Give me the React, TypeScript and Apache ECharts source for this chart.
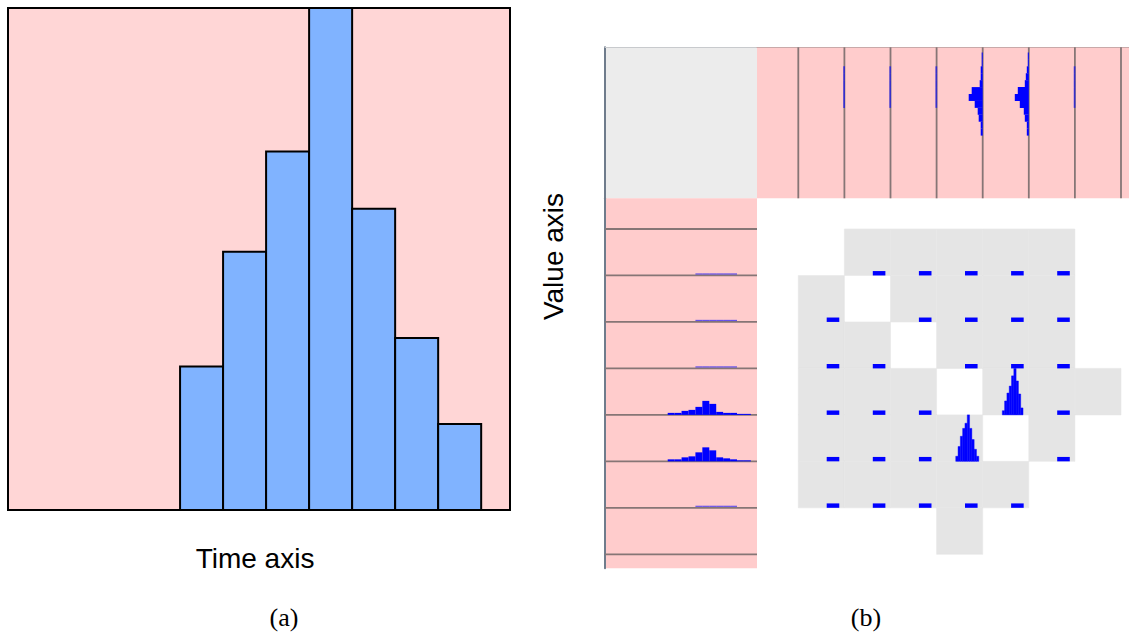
import React, { useEffect, useRef } from "react";
import * as echarts from "echarts";

// ---------- Panel (a): histogram over time ----------
const timeBinStart = [4, 5, 6, 7, 8, 9, 10];
const timeCounts = [10, 18, 25, 35, 21, 12, 6];
const timeAxisMax = 11.67;
const countAxisMax = 35;

// ---------- Panel (b): matrix of pairwise histograms ----------
const boundaries = [0, 1, 2, 3, 4, 5, 6, 7];
// gray (non-empty) cells, per row: list of columns
const grayCols = [
  [1, 2, 3, 4, 5],
  [0, 2, 3, 4, 5],
  [0, 1, 3, 4, 5],
  [0, 1, 2, 4, 5, 6],
  [0, 1, 2, 3, 5],
  [0, 1, 2, 3, 4],
  [3],
];
// small flat distributions ("dashes"), per row: list of columns
const dashCols = [
  [1, 2, 3, 4, 5],
  [0, 2, 3, 4, 5],
  [0, 1, 3, 4, 5],
  [0, 1, 2, 5],
  [0, 1, 2, 5],
  [0, 1, 2, 3, 4],
  [],
];
// marginal histograms (same variable shown in the top and left bands)
const marginalVars = [0, 1, 2, 3, 4, 5];
const marginalStart = [4, 4, 4, 0, 0, 4];
const marginalCounts = [
  [0.9, 0.9, 0.9, 0.9, 0.9, 0.9],
  [0.9, 0.9, 0.9, 0.9, 0.9, 0.9],
  [0.9, 0.9, 0.9, 0.9, 0.9, 0.9],
  [2, 2, 4, 5, 8, 14, 11, 3, 2, 2, 1, 1],
  [2, 2, 4, 5, 9, 14, 11, 4, 3, 2, 1, 1],
  [0.9, 0.9, 0.9, 0.9, 0.9, 0.9],
];
// tall narrow joint histograms inside the matrix
const spikeRows = [3, 4];
const spikeCols = [4, 3];
const spikeStart = [0.425, 0.415];
const spikeBinWidth = 0.05;
const spikeHeights = [
  [0.09, 0.3, 0.47, 0.62, 0.84, 1.0, 0.73, 0.45, 0.15],
  [0.11, 0.32, 0.54, 0.71, 0.82, 1.0, 0.71, 0.47, 0.26, 0.11],
];
// dash extent within a cell (cell fractions)
const dashX0 = 0.616;
const dashX1 = 0.889;
const dashH = 0.095;

// ---------- layout (pixels) ----------
const COL0_X = 798.3;
const CELL_W = 46.1;
const ROW0_Y = 229;
const CELL_H = 46.47;
const B_LEFT = 605;
const B_TOP = 47.3;
const BAND_X = 757;
const BAND_Y = 198.3;
const B_RIGHT = 1129;
const B_BOTTOM = 568.3;
const BIN0_OFFSET = 62.7;
const BIN_W = 6.93;

const colMin = (BAND_X - COL0_X) / CELL_W;
const colMax = (B_RIGHT - COL0_X) / CELL_W;
const rowMin = (BAND_Y - ROW0_Y) / CELL_H;
const rowMax = (B_BOTTOM - ROW0_Y) / CELL_H;
const binMinL = -BIN0_OFFSET / BIN_W;
const binMaxL = (BAND_X - B_LEFT - BIN0_OFFSET) / BIN_W;
const binMinT = -BIN0_OFFSET / BIN_W;
const binMaxT = (BAND_Y - B_TOP - BIN0_OFFSET) / BIN_W;

const PINK_A = "#ffd6d6";
const PINK_B = "#ffcccc";
const BAR_BLUE = "#80b3ff";
const BLUE = "#0000ff";
const CELL_GRAY = "#e5e5e5";
const LINE_GRAY = "#867676";
const AXIS_BLUEGRAY = "#6f7c8c";
const SANS = "'Liberation Sans', Arial, Helvetica, sans-serif";
const SERIF = "'Liberation Serif', 'Times New Roman', serif";

const hiddenAxisParts = {
  axisLine: { show: false },
  axisTick: { show: false },
  axisLabel: { show: false },
  splitLine: { show: false },
};

function rectFrom(api: any, a: number[], b: number[], style: any) {
  const p0 = api.coord(a);
  const p1 = api.coord(b);
  const x = Math.min(p0[0], p1[0]);
  const y = Math.min(p0[1], p1[1]);
  return {
    type: "rect",
    shape: { x, y, width: Math.abs(p1[0] - p0[0]), height: Math.abs(p1[1] - p0[1]) },
    style,
  };
}

function buildOption() {
  const barData = timeBinStart.map((s, i) => [s, s + 1, timeCounts[i]]);

  const grayData: number[][] = [];
  grayCols.forEach((cols, r) => cols.forEach((c) => grayData.push([r, c])));
  const dashData: number[][] = [];
  dashCols.forEach((cols, r) => cols.forEach((c) => dashData.push([r, c])));

  const marginalData: number[][] = [];
  marginalVars.forEach((v, k) =>
    marginalCounts[k].forEach((cnt, i) => marginalData.push([v, marginalStart[k] + i, cnt]))
  );

  const spikeData: number[][] = [];
  spikeRows.forEach((r, k) => {
    const c = spikeCols[k];
    spikeHeights[k].forEach((h, i) => {
      const x0 = c + spikeStart[k] + i * spikeBinWidth;
      spikeData.push([x0, x0 + spikeBinWidth, r + 1, h]);
    });
  });

  const faint = (cnt: number) => cnt < 1;

  return {
    animation: false,
    backgroundColor: "#ffffff",
    grid: [
      { left: 8, top: 8, width: 502, height: 502, show: true, backgroundColor: PINK_A, borderColor: "#000", borderWidth: 2 },
      { left: B_LEFT, top: B_TOP, width: BAND_X - B_LEFT, height: BAND_Y - B_TOP, show: true, backgroundColor: "#ececec", borderWidth: 0 },
      { left: BAND_X, top: B_TOP, width: B_RIGHT - BAND_X, height: BAND_Y - B_TOP, show: true, backgroundColor: PINK_B, borderWidth: 0 },
      { left: B_LEFT, top: BAND_Y, width: BAND_X - B_LEFT, height: B_BOTTOM - BAND_Y, show: true, backgroundColor: PINK_B, borderWidth: 0 },
      { left: BAND_X, top: BAND_Y, width: B_RIGHT - BAND_X, height: B_BOTTOM - BAND_Y, show: false },
    ],
    xAxis: [
      {
        gridIndex: 0, type: "value", min: 0, max: timeAxisMax,
        name: "Time axis", nameLocation: "middle", nameGap: 34,
        nameTextStyle: { fontSize: 28, color: "#000", fontFamily: SANS, padding: [0, 8, 0, 0] },
        ...hiddenAxisParts,
      },
      {
        gridIndex: 1, type: "value", min: 0, max: 1, position: "top",
        ...hiddenAxisParts,
        axisLine: { show: true, onZero: false, lineStyle: { color: "#c8cacd", width: 1 } },
      },
      {
        gridIndex: 2, type: "value", min: colMin, max: colMax, position: "top",
        ...hiddenAxisParts,
        axisLine: { show: true, onZero: false, lineStyle: { color: "#c9a9a9", width: 1 } },
      },
      { gridIndex: 3, type: "value", min: binMinL, max: binMaxL, show: false },
      { gridIndex: 4, type: "value", min: colMin, max: colMax, show: false },
    ],
    yAxis: [
      { gridIndex: 0, type: "value", min: 0, max: countAxisMax, show: false },
      {
        gridIndex: 1, type: "value", min: 0, max: 1,
        ...hiddenAxisParts,
        axisLine: { show: true, onZero: false, lineStyle: { color: AXIS_BLUEGRAY, width: 2 } },
      },
      { gridIndex: 2, type: "value", min: binMinT, max: binMaxT, show: false },
      {
        gridIndex: 3, type: "value", min: rowMin, max: rowMax, inverse: true,
        ...hiddenAxisParts,
        axisLine: { show: true, onZero: false, lineStyle: { color: AXIS_BLUEGRAY, width: 2 } },
      },
      { gridIndex: 4, type: "value", min: rowMin, max: rowMax, inverse: true, show: false },
    ],
    series: [
      {
        type: "custom", name: "time histogram", xAxisIndex: 0, yAxisIndex: 0, silent: true,
        data: barData,
        renderItem: (_p: any, api: any) =>
          rectFrom(api, [api.value(0), api.value(2)], [api.value(1), 0], {
            fill: BAR_BLUE, stroke: "#000", lineWidth: 2,
          }),
      },
      {
        type: "custom", name: "top band lines", xAxisIndex: 2, yAxisIndex: 2, silent: true,
        data: boundaries.map((k) => [k]),
        renderItem: (_p: any, api: any) => {
          const a = api.coord([api.value(0), binMaxT]);
          const b = api.coord([api.value(0), binMinT]);
          return { type: "line", shape: { x1: a[0], y1: a[1], x2: b[0], y2: b[1] }, style: { stroke: LINE_GRAY, lineWidth: 1.8 } };
        },
      },
      {
        type: "custom", name: "left band lines", xAxisIndex: 3, yAxisIndex: 3, silent: true,
        data: boundaries.map((k) => [k]),
        renderItem: (_p: any, api: any) => {
          const a = api.coord([binMinL, api.value(0)]);
          const b = api.coord([binMaxL, api.value(0)]);
          return { type: "line", shape: { x1: a[0], y1: a[1], x2: b[0], y2: b[1] }, style: { stroke: LINE_GRAY, lineWidth: 1.8 } };
        },
      },
      {
        type: "custom", name: "top marginals", xAxisIndex: 2, yAxisIndex: 2, silent: true,
        data: marginalData,
        renderItem: (_p: any, api: any) => {
          const v = api.value(0), bin = api.value(1), cnt = api.value(2);
          const x1 = v + 1 + (faint(cnt) ? 0.6 / CELL_W : 0);
          const x0 = v + 1 - (faint(cnt) ? 1.2 : cnt) / CELL_W;
          return rectFrom(api, [x0, bin + 1], [x1, bin], { fill: BLUE, opacity: faint(cnt) ? 0.6 : 1 });
        },
      },
      {
        type: "custom", name: "left marginals", xAxisIndex: 3, yAxisIndex: 3, silent: true,
        data: marginalData,
        renderItem: (_p: any, api: any) => {
          const v = api.value(0), bin = api.value(1), cnt = api.value(2);
          const y1 = v + 1 - (faint(cnt) ? 0.9 / CELL_H : 0);
          const y0 = v + 1 - (faint(cnt) ? 2.1 : cnt) / CELL_H;
          return rectFrom(api, [bin, y0], [bin + 1, y1], { fill: BLUE, opacity: faint(cnt) ? 0.6 : 1 });
        },
      },
      {
        type: "custom", name: "cells", xAxisIndex: 4, yAxisIndex: 4, silent: true,
        data: grayData,
        renderItem: (_p: any, api: any) => {
          const r = api.value(0), c = api.value(1);
          return rectFrom(api, [c, r], [c + 1, r + 1], { fill: CELL_GRAY, stroke: CELL_GRAY, lineWidth: 0.6 });
        },
      },
      {
        type: "custom", name: "dashes", xAxisIndex: 4, yAxisIndex: 4, silent: true,
        data: dashData,
        renderItem: (_p: any, api: any) => {
          const r = api.value(0), c = api.value(1);
          return rectFrom(api, [c + dashX0, r + 1 - dashH], [c + dashX1, r + 1], { fill: BLUE });
        },
      },
      {
        type: "custom", name: "spikes", xAxisIndex: 4, yAxisIndex: 4, silent: true,
        data: spikeData,
        renderItem: (_p: any, api: any) => {
          const x0 = api.value(0), x1 = api.value(1), base = api.value(2), h = api.value(3);
          return rectFrom(api, [x0, base - h], [x1, base], { fill: BLUE, stroke: BLUE, lineWidth: 0.4 });
        },
      },
    ],
    graphic: [
      {
        type: "text", x: 553.6, y: 256.5, rotation: Math.PI / 2, silent: true,
        style: { text: "Value axis", fontSize: 28, fontFamily: SANS, fill: "#000", align: "center", verticalAlign: "middle" },
      },
      {
        type: "text", x: 284, y: 617.5, silent: true,
        style: { text: "(a)", fontSize: 26, fontFamily: SERIF, fill: "#000", align: "center", verticalAlign: "middle" },
      },
      {
        type: "text", x: 866, y: 617.5, silent: true,
        style: { text: "(b)", fontSize: 26, fontFamily: SERIF, fill: "#000", align: "center", verticalAlign: "middle" },
      },
    ],
  };
}

export default function App() {
  const ref = useRef<HTMLDivElement>(null);
  useEffect(() => {
    if (!ref.current) return;
    const chart = echarts.init(ref.current, null, { renderer: "svg" });
    chart.setOption(buildOption() as any);
    return () => chart.dispose();
  }, []);
  return (
    <div
      ref={ref}
      style={{ position: "absolute", left: 0, top: 0, width: 1129, height: 639, background: "#fff" }}
    />
  );
}
